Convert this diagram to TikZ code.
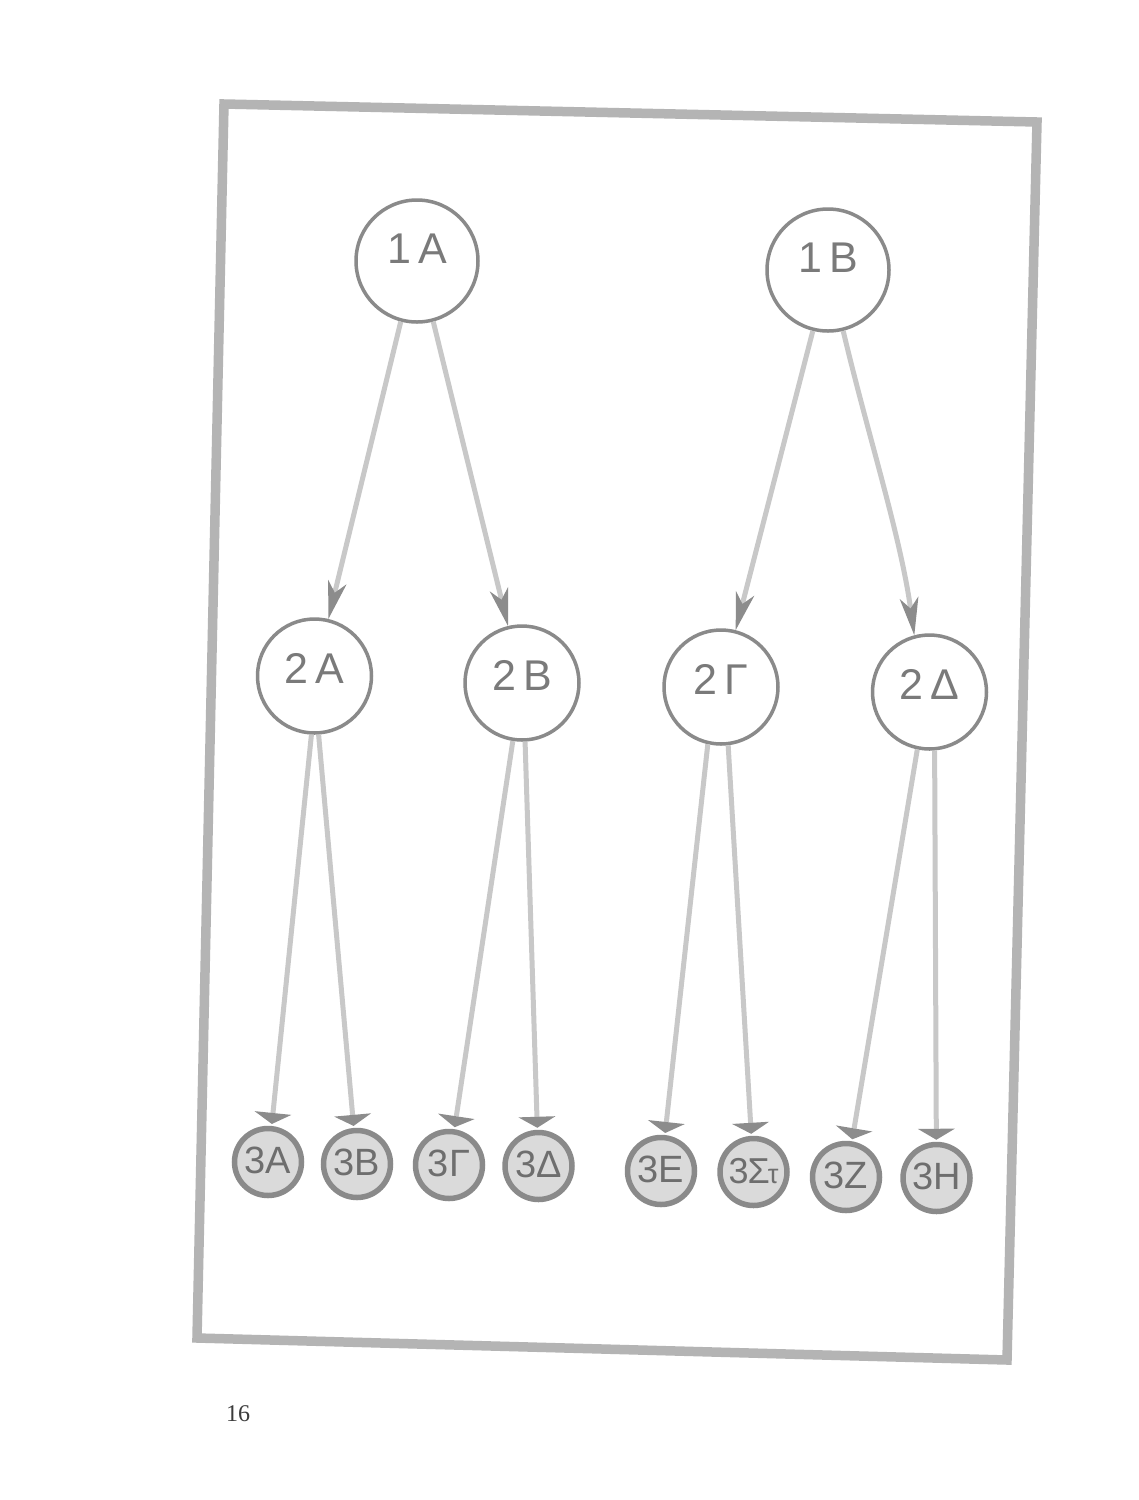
\documentclass[tikz,border=0pt]{standalone}
\usepackage{fontspec}
\setmainfont{Liberation Sans}
\newfontfamily\numfont{Liberation Serif}
\usetikzlibrary{arrows.meta}
\definecolor{framegray}{HTML}{B4B4B4}
\definecolor{ringgray}{HTML}{8A8A8A}
\definecolor{txtgray}{HTML}{7A7A7A}
\definecolor{txtdark}{HTML}{6E6E6E}
\definecolor{linegray}{HTML}{C8C8C8}
\definecolor{tipgray}{HTML}{8C8C8C}
\definecolor{fillgray}{HTML}{DADADA}
\definecolor{pagenum}{HTML}{3C3C3C}
\begin{document}
\begin{tikzpicture}[x=1pt,y=-1pt,
  lvlone/.style={circle, draw=ringgray, line width=3.5pt, fill=white, minimum size=122pt, inner sep=0pt, text=txtgray, font=\fontsize{43}{43}\selectfont, text height=31pt, text depth=26pt},
  lvltwo/.style={lvlone, minimum size=114pt, text depth=16pt},
  lvlthree/.style={circle, draw=ringgray, line width=5.5pt, fill=fillgray, minimum size=67pt, inner sep=0pt, text=txtdark, font=\fontsize{38}{38}\selectfont, text height=28pt, text depth=6pt},
  bigarrow/.style={draw=linegray, line width=5pt, -{Stealth[length=38pt,width=19pt,inset=11pt,color=tipgray,line width=0pt]}},
  smallarrow/.style={draw=linegray, line width=5pt, shorten >=2pt, -{Triangle[length=11pt,width=37pt,color=tipgray,line width=0pt]}}
]
\fill[white] (0,0) rectangle (1139,1500);
\useasboundingbox (0,0) rectangle (1139,1500);
% frame
\draw[framegray, line width=9.5pt, line join=miter] (224,104) -- (1037,122) -- (1007,1360) -- (197,1338) -- cycle;
% level 1
\node[lvlone] (n1A) at (417,261) {1\,A};
\node[lvlone] (n1B) at (828,270) {1\,B};
% level 2
\node[lvltwo] (n2A) at (314.5,676) {2\,A};
\node[lvltwo] (n2B) at (522,683) {2\,B};
\node[lvltwo] (n2G) at (721,687) {2\,Γ};
\node[lvltwo] (n2D) at (929.5,692) {2\,Δ};
% level 3
\node[lvlthree] (n3A) at (268,1162) {3A};
\node[lvlthree] (n3B) at (357,1164) {3B};
\node[lvlthree] (n3G) at (449,1165) {3Γ};
\node[lvlthree] (n3D) at (538.5,1166) {3Δ};
\node[lvlthree] (n3E) at (661,1171) {3E};
\node[lvlthree, font=\fontsize{36}{36}\selectfont] (n3S) at (753.5,1172) {3\kern-1ptΣ\kern-2pt{\fontsize{27}{27}\selectfont τ}};
\node[lvlthree] (n3Z) at (846,1177) {3Z};
\node[lvlthree] (n3H) at (936.5,1178) {3H};
% arrows level 1 -> 2
\draw[bigarrow] (n1A.-105) -- (n2A);
\draw[bigarrow] (n1A.-75) -- (n2B);
\draw[bigarrow] (n1B.-104) -- (n2G);
\draw[bigarrow] (n1B.-76) .. controls +(25,105) and +(-14,-100) .. (n2D.105);
% arrows level 2 -> 3
\draw[smallarrow] (n2A.-93) -- (n3A);
\draw[smallarrow] (n2A.-86) -- (n3B);
\draw[smallarrow] (n2B.-99) -- (n3G);
\draw[smallarrow] (n2B.-87) -- (n3D);
\draw[smallarrow] (n2G.-103) -- (n3E);
\draw[smallarrow] (n2G.-83) -- (n3S);
\draw[smallarrow] (n2D.-102) -- (n3Z);
\draw[smallarrow] (n2D.-85) -- (n3H);
% page number
\node[text=pagenum, font=\numfont\fontsize{24}{24}\selectfont] (pnum) at (238,1414) {16};
\end{tikzpicture}
\end{document}
